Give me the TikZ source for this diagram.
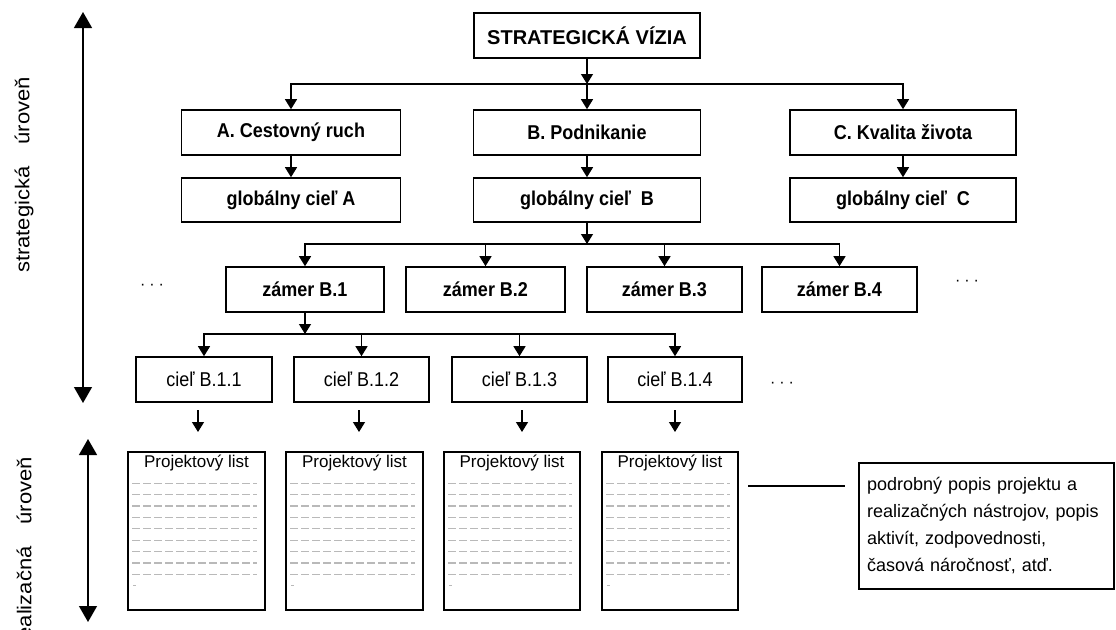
\documentclass[tikz,border=0pt]{standalone}
\usepackage{fontspec}
\setmainfont{Liberation Sans}
\newfontfamily\hdfont[FakeStretch=0.9]{Liberation Sans}
\newfontfamily\widefont[FakeStretch=1.1]{Liberation Sans}
\usetikzlibrary{arrows.meta}
\definecolor{dashgray}{RGB}{185,185,185}
\begin{document}
\begin{tikzpicture}[x=1pt,y=-1pt,
  box/.style={draw, line width=1.6pt, inner sep=0pt, align=center},
  hd/.style={box, font=\hdfont\bfseries\fontsize{20}{24}\selectfont, minimum height=45pt},
  gl/.style={hd, minimum height=44pt},
  cl/.style={box, font=\hdfont\fontsize{20}{24}\selectfont, minimum height=45pt},
  pl/.style={box, minimum height=158pt},
  conn/.style={line width=1.3pt},
  arr/.style={conn, -{Triangle[width=12pt,length=10pt]}},
  bigarr/.style={line width=1.3pt, {Triangle[width=18pt,length=16pt]}-{Triangle[width=18pt,length=16pt]}},
  lvl/.style={rotate=90, anchor=east, inner sep=0pt, font=\widefont\fontsize{20}{24}\selectfont},
  dots/.style={inner sep=0pt, font=\fontsize{16}{18}\selectfont},
  dline/.style={line width=1.2pt, dashgray, dash pattern=on 8pt off 3pt}
]
\useasboundingbox (0,0) rectangle (1116,629);
\clip (0,0) rectangle (1116,629);

% level labels and arrows
\node[lvl] (lblS) at (24,77) {strategická\hspace{22pt}úroveň};
\node[lvl] (lblR) at (24,457) {realizačná\hspace{22pt}úroveň};
\coordinate (s1) at (83,12);
\coordinate (s2) at (83,403);
\coordinate (r1) at (88,439);
\coordinate (r2) at (88,622);
\draw[bigarr] (s1) -- (s2);
\draw[bigarr] (r1) -- (r2);

% top
\node[hd, minimum width=226pt, font=\bfseries\fontsize{20}{24}\selectfont] (viz) at (587,35.5) {STRATEGICKÁ VÍZIA};
\node[hd, minimum width=219pt] (A) at (291,132.5) {A. Cestovný ruch};
\node[hd, minimum width=227pt] (B) at (587,132.5) {B. Podnikanie};
\node[hd, minimum width=226pt] (C) at (903,132.5) {C. Kvalita života};
\node[gl, minimum width=219pt] (gA) at (291,200) {globálny cieľ A};
\node[gl, minimum width=227pt] (gB) at (587,200) {globálny cieľ\ \ B};
\node[gl, minimum width=226pt] (gC) at (903,200) {globálny cieľ\ \ C};

\coordinate (bus1) at (587,84);
\draw[arr] (viz.south) -- (bus1);
\draw[arr] (bus1) -| (A.north);
\draw[arr] (bus1) -- (B.north);
\draw[arr] (bus1) -| (C.north);
\draw[arr] (A) -- (gA);
\draw[arr] (B) -- (gB);
\draw[arr] (C) -- (gC);

% zamer row
\node[hd, minimum width=158pt] (z1) at (305,289.5) {zámer B.1};
\node[hd, minimum width=159pt] (z2) at (485.5,289.5) {zámer B.2};
\node[hd, minimum width=155pt] (z3) at (664.5,289.5) {zámer B.3};
\node[hd, minimum width=155pt] (z4) at (839.5,289.5) {zámer B.4};
\node[dots] (dL) at (152,287) {·\hspace{4pt}·\hspace{4pt}·};
\node[dots] (dR) at (967,283) {·\hspace{4pt}·\hspace{4pt}·};

\coordinate (bus2) at (587,244);
\draw[arr] (gB.south) -- (bus2);
\draw[arr] (bus2) -| (z1.north);
\draw[arr] (bus2) -| (z2.north);
\draw[arr] (bus2) -| (z3.north);
\draw[arr] (bus2) -| (z4.north);

% ciel row
\node[cl, minimum width=136pt] (c1) at (204,379.5) {cieľ B.1.1};
\node[cl, minimum width=135pt] (c2) at (361.5,379.5) {cieľ B.1.2};
\node[cl, minimum width=135pt] (c3) at (519.5,379.5) {cieľ B.1.3};
\node[cl, minimum width=134pt] (c4) at (675,379.5) {cieľ B.1.4};
\node[dots] (dC) at (782,385) {·\hspace{4pt}·\hspace{4pt}·};

\coordinate (bus3) at (305,334);
\draw[arr] (z1.south) -- (bus3);
\draw[arr] (bus3) -| (c1.north);
\draw[arr] (bus3) -| (c2.north);
\draw[arr] (bus3) -| (c3.north);
\draw[arr] (bus3) -| (c4.north);

% free arrows
\foreach \i/\x in {1/198,2/359,3/522,4/675}{
  \coordinate (fa\i) at (\x,410);
  \coordinate (fb\i) at (\x,432);
  \draw[arr] (fa\i) -- (fb\i);
}

% project sheets
\node[pl, minimum width=137pt] (p1) at (196.5,531) {};
\node[pl, minimum width=137pt] (p2) at (354.5,531) {};
\node[pl, minimum width=136pt] (p3) at (512,531) {};
\node[pl, minimum width=136pt] (p4) at (670,531) {};
\foreach \p in {p1,p2,p3,p4}{
  \node[anchor=base, inner sep=0pt, font=\fontsize{17}{19}\selectfont] (\p t) at ([yshift=-16.5pt]\p.north) {Projektový list};
  \foreach \k in {0,...,8}{
    \draw[dline] ([xshift=5pt,yshift={-32pt-\k*11.4pt}]\p.north west) -- ([xshift=-9pt,yshift={-32pt-\k*11.4pt}]\p.north east);
  }
  \draw[line width=1.2pt, dashgray] ([xshift=6pt,yshift=-134pt]\p.north west) -- ([xshift=9pt,yshift=-134pt]\p.north west);
}

% description
\node[box, minimum width=255pt, minimum height=126pt, text width=239pt, inner xsep=8pt, align=left,
  font=\fontsize{18}{27}\selectfont] (desc) at (986.5,526)
  {podrobný popis projektu a\\realizačných nástrojov, popis\\aktivít, zodpovednosti,\\časová náročnosť, atď.};
\coordinate (l1) at (748,486);
\coordinate (l2) at (845,486);
\draw[conn] (l1) -- (l2);
\end{tikzpicture}
\end{document}
